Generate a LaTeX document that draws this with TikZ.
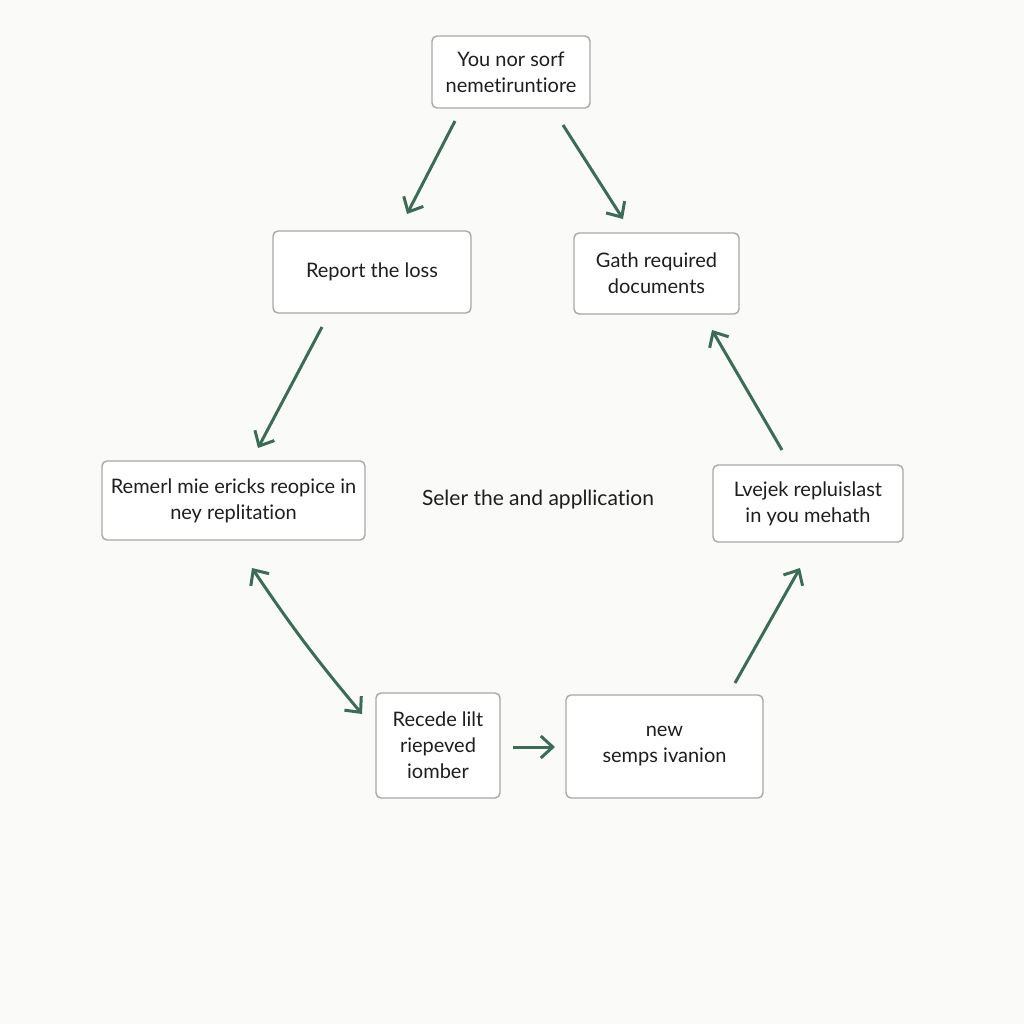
\documentclass[tikz,border=0pt]{standalone}
\usepackage{fontspec}
\setmainfont{Lato}[Ligatures={NoCommon,NoDiscretionary}]
\usetikzlibrary{arrows.meta}
\definecolor{arr}{HTML}{3E6B57}
\definecolor{bord}{HTML}{A8A8A8}
\definecolor{bg}{HTML}{FAFAF8}
\definecolor{txt}{HTML}{1E1E1E}
\begin{document}
\begin{tikzpicture}[x=0.5pt,y=-0.5pt,
  box/.style={draw=bord,line width=0.7pt,rounded corners=2.5pt,fill=white,text=txt,align=center,font=\fontsize{10}{13}\selectfont,inner sep=0pt},
  conn/.style={draw=arr,line width=1.5pt,-{Straight Barb[length=6pt,width=11pt,line width=1.5pt]}},
  conn2/.style={draw=arr,line width=1.5pt,{Straight Barb[length=6pt,width=11pt,line width=1.5pt]}-{Straight Barb[length=6pt,width=11pt,line width=1.5pt]}}]
\fill[bg] (0,0) rectangle (1024,1024);
\useasboundingbox (0,0) rectangle (1024,1024);
\node[box,minimum width=79pt,minimum height=36pt] (top) at (511,72) {You nor sorf\\nemetiruntiore};
\node[box,minimum width=99pt,minimum height=41pt] (rep) at (372,272) {Report the loss};
\node[box,minimum width=82.5pt,minimum height=40.5pt] (gath) at (656.5,273.5) {Gath required\\documents};
\node[box,minimum width=131.5pt,minimum height=39.5pt] (rem) at (233.5,500.5) {Remerl mie ericks reopice in\\ney replitation};
\node[box,minimum width=95pt,minimum height=38.5pt] (lve) at (808,503.5) {Lvejek repluislast\\in you mehath};
\node[box,minimum width=62pt,minimum height=52.5pt] (rec) at (438,745.5) {Recede lilt\\riepeved\\iomber};
\node[box,minimum width=98.5pt,minimum height=51.5pt] (new) at (664.5,746.5) {new\\semps ivanion};
\node[text=txt,font=\fontsize{10.5}{13}\selectfont] (ctr) at (538,500) {Seler the and appllication};
\coordinate (a1s) at (455,121); \coordinate (a1e) at (407,214);
\coordinate (a2s) at (563,125); \coordinate (a2e) at (623,219);
\coordinate (a3s) at (322,327); \coordinate (a3e) at (258,448);
\coordinate (a4s) at (782,450); \coordinate (a4e) at (712,330);
\coordinate (a5s) at (252,568); \coordinate (a5e) at (362,714);
\coordinate (a6s) at (513,747); \coordinate (a6e) at (555,747);
\coordinate (a7s) at (735,683); \coordinate (a7e) at (800,568);
\draw[conn] (a1s) -- (a1e);
\draw[conn] (a2s) -- (a2e);
\draw[conn] (a3s) -- (a3e);
\draw[conn] (a4s) -- (a4e);
\draw[conn2] (a5s) to[bend right=3] (a5e);
\draw[conn] (a6s) -- (a6e);
\draw[conn] (a7s) -- (a7e);
\end{tikzpicture}
\end{document}
